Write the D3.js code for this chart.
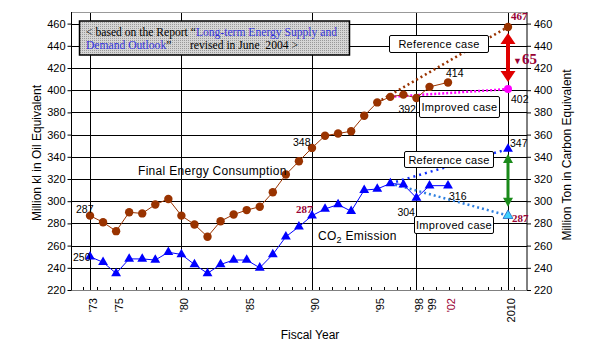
<!DOCTYPE html>
<html>
<head>
<meta charset="utf-8">
<script src="https://cdnjs.cloudflare.com/ajax/libs/d3/7.8.5/d3.min.js"></script>
<style>
  body { margin: 0; background: #fff; }
  svg { display: block; }
  text { font-family: "Liberation Sans", Arial, sans-serif; }
</style>
</head>
<body>
<div id="chart"></div>
<script>
// actual data, fiscal years ('73 - '99, then '02)
const years = [1973, 1974, 1975, 1976, 1977, 1978, 1979, 1980, 1981, 1982, 1983, 1984, 1985, 1986,
    1987, 1988, 1989, 1990, 1991, 1992, 1993, 1994, 1995, 1996, 1997, 1998, 1999, 2002];
const energy = [287, 281, 273, 290, 289, 297, 302, 287, 279, 268, 282, 288, 292, 295,
    308, 324, 336, 348, 359, 361, 363, 377, 389, 394, 396, 393, 403, 407];
const co2 = [250, 245, 235, 248, 248, 247, 254, 252, 243, 235, 243, 247, 247, 240,
    252, 268, 277, 287, 293, 297, 291, 310, 311, 316, 315, 303, 314, 314];

// outlook to 2010
const energyRefYears = [1995, 2010];
const energyRefCase = [389, 457];
const energyImpYears = [1996, 2010];
const energyImpCase = [394, 401];
const co2RefYears = [1996, 2010];
const co2RefCase = [316, 347];
const co2ImpYears = [1996, 2010];
const co2ImpCase = [316, 287];

// axes
const yTicks = [220, 240, 260, 280, 300, 320, 340, 360, 380, 400, 420, 440, 460];
const gridYears = [1973, 1980, 1990, 1998, 2010];
const tickYears = [1973, 1975, 1980, 1985, 1990, 1995, 1998, 1999, 2002, 2010];
const tickLabels = ["'73", "'75", "'80", "'85", "'90", "'95", "'98", "'99", "'02", "2010"];

const width = 600, height = 346;
const plotLeft = 71.5, plotRight = 527, plotTop = 12, plotBottom = 290;

const brown = "#993300", blue = "#0000ff", maroon = "#990033";

const svg = d3.select("#chart").append("svg")
    .attr("width", width)
    .attr("height", height);

// years are categories up to '99, the remaining ones are squeezed in
const x = d3.scaleLinear()
    .domain([1973, 1999, 2002, 2010])
    .range([90, 429.5, 448, 508]);
// underlying category grid (for the small ticks)
const xCat = d3.scaleLinear().domain([1973, 1999]).range([90, 429.5]);
const y = d3.scaleLinear().domain([220, 470]).range([plotBottom, 12.5]);

// pattern for the note box
const defs = svg.append("defs");
const pat = defs.append("pattern")
    .attr("id", "dots")
    .attr("width", 2).attr("height", 2)
    .attr("patternUnits", "userSpaceOnUse");
pat.append("rect").attr("width", 2).attr("height", 2).attr("fill", "#d6d6d6");
pat.append("rect").attr("width", 1).attr("height", 1).attr("fill", "#999");

// horizontal grid
svg.append("g")
    .selectAll("line")
    .data(yTicks.slice(1))
    .enter()
    .append("line")
    .attr("x1", plotLeft).attr("x2", plotRight)
    .attr("y1", d => Math.round(y(d)) + 0.5).attr("y2", d => Math.round(y(d)) + 0.5)
    .attr("stroke", "#000");

// vertical grid
svg.append("g")
    .selectAll("line")
    .data(gridYears)
    .enter()
    .append("line")
    .attr("x1", d => Math.round(x(d)) + 0.5).attr("x2", d => Math.round(x(d)) + 0.5)
    .attr("y1", plotTop).attr("y2", plotBottom)
    .attr("stroke", "#000");

// frame
svg.append("line").attr("x1", plotLeft).attr("x2", plotRight)
    .attr("y1", plotTop + 0.5).attr("y2", plotTop + 0.5).attr("stroke", "#999");
svg.append("line").attr("x1", plotLeft).attr("x2", plotLeft)
    .attr("y1", plotTop).attr("y2", plotBottom).attr("stroke", "#000");
svg.append("line").attr("x1", plotRight).attr("x2", plotRight)
    .attr("y1", plotTop).attr("y2", plotBottom).attr("stroke", "#000");
svg.append("line").attr("x1", plotLeft).attr("x2", plotRight)
    .attr("y1", plotBottom + 0.5).attr("y2", plotBottom + 0.5)
    .attr("stroke", "#000").attr("stroke-dasharray", "1,1");

// small year ticks
svg.append("g")
    .selectAll("line")
    .data(d3.range(1972.5, 2006, 1))
    .enter()
    .append("line")
    .attr("x1", d => Math.round(xCat(d)) + 0.5).attr("x2", d => Math.round(xCat(d)) + 0.5)
    .attr("y1", plotBottom - 3).attr("y2", plotBottom)
    .attr("stroke", "#000");

// y axes
const leftAxis = svg.append("g")
    .attr("transform", `translate(${plotLeft},0)`)
    .call(d3.axisLeft(y).tickValues(yTicks).tickSizeInner(4).tickSizeOuter(0).tickPadding(2));
const rightAxis = svg.append("g")
    .attr("transform", `translate(${plotRight},0)`)
    .call(d3.axisRight(y).tickValues(yTicks).tickSizeInner(4).tickSizeOuter(0).tickPadding(3));
[leftAxis, rightAxis].forEach(a => {
    a.select(".domain").remove();
    a.selectAll("text").style("font-size", "11px").style("font-family", "\"Liberation Sans\", Arial, sans-serif");
});

// x labels, rotated
svg.append("g")
    .selectAll("text")
    .data(tickYears)
    .enter()
    .append("text")
    .attr("transform", d => `translate(${x(d) + 3},298) rotate(-90)`)
    .attr("dy", "0.35em")
    .attr("text-anchor", "end")
    .style("font-size", "11px")
    .attr("fill", (d, i) => tickLabels[i] === "'02" ? maroon : "#000")
    .text((d, i) => tickLabels[i]);

// axis titles
svg.append("text")
    .attr("transform", `translate(41,153) rotate(-90)`)
    .attr("text-anchor", "middle")
    .style("font-size", "12px")
    .text("Million kl in Oil Equivalent");
svg.append("text")
    .attr("transform", `translate(571,155) rotate(-90)`)
    .attr("text-anchor", "middle")
    .style("font-size", "12px")
    .text("Million Ton in Carbon Equivalent");
svg.append("text")
    .attr("x", 310).attr("y", 339)
    .attr("text-anchor", "middle")
    .style("font-size", "12px")
    .text("Fiscal Year");

// outlook lines (dotted)
function outlook(yrs, vals, color, dash) {
    svg.append("path")
        .datum(yrs.map((d, i) => [d, vals[i]]))
        .attr("d", d3.line().x(d => x(d[0])).y(d => y(d[1])))
        .attr("fill", "none")
        .attr("stroke", color)
        .attr("stroke-width", 2.5)
        .attr("stroke-dasharray", dash);
}
outlook(energyRefYears, energyRefCase, brown, "2,3");
outlook(energyImpYears, energyImpCase, "#ff00ff", "2,2");
outlook(co2RefYears, co2RefCase, "#1030ff", "2,4");
outlook(co2ImpYears, co2ImpCase, "#2f80e0", "2,3");

// actual lines
const line = d3.line().x((d, i) => x(years[i])).y(d => y(d));
svg.append("path").datum(energy).attr("d", line)
    .attr("fill", "none").attr("stroke", brown).attr("stroke-width", 1);
svg.append("path").datum(co2).attr("d", line)
    .attr("fill", "none").attr("stroke", blue).attr("stroke-width", 1);

svg.append("g")
    .selectAll("circle")
    .data(energy)
    .enter()
    .append("circle")
    .attr("cx", (d, i) => x(years[i]))
    .attr("cy", d => y(d))
    .attr("r", 4.2)
    .attr("fill", brown);

const tri = d3.symbol().type(d3.symbolTriangle).size(42);
svg.append("g")
    .selectAll("path")
    .data(co2)
    .enter()
    .append("path")
    .attr("d", tri)
    .attr("transform", (d, i) => `translate(${x(years[i])},${y(d)})`)
    .attr("fill", blue);

// 2010 end markers
svg.append("circle").attr("cx", x(2010)).attr("cy", y(energyRefCase[1]))
    .attr("r", 4.2).attr("fill", brown);
svg.append("circle").attr("cx", x(2010)).attr("cy", y(energyImpCase[1]))
    .attr("r", 4).attr("fill", "#ff00ff");
svg.append("path").attr("d", tri)
    .attr("transform", `translate(${x(2010)},${y(co2RefCase[1])})`).attr("fill", blue);
svg.append("path").attr("d", tri)
    .attr("transform", `translate(${x(2010)},${y(co2ImpCase[1])})`)
    .attr("fill", "#40d0ff").attr("stroke", "#2060c0").attr("stroke-width", 0.8);

// double arrows between the two cases
function doubleArrow(yTop, yBottom, color, shaft, headW, headH) {
    const cx = x(2010);
    const g = svg.append("g").attr("fill", color);
    g.append("rect")
        .attr("x", cx - shaft / 2).attr("width", shaft)
        .attr("y", yTop + headH - 1).attr("height", yBottom - yTop - 2 * headH + 2);
    g.append("path").attr("d", `M${cx},${yTop} L${cx + headW / 2},${yTop + headH} L${cx - headW / 2},${yTop + headH}Z`);
    g.append("path").attr("d", `M${cx},${yBottom} L${cx + headW / 2},${yBottom - headH} L${cx - headW / 2},${yBottom - headH}Z`);
}
doubleArrow(y(energyRefCase[1]) + 6, y(energyImpCase[1]) - 7, "#e00000", 4, 15, 11);
doubleArrow(y(co2RefCase[1]) + 5, y(co2ImpCase[1]) - 9, "#1a8a1a", 3, 10, 9);

svg.append("text")
    .attr("x", 513).attr("y", 64)
    .attr("fill", maroon)
    .style("font-family", "\"Liberation Serif\", serif")
    .style("font-weight", "bold")
    .call(t => {
        t.append("tspan").style("font-size", "9px").text("▼");
        t.append("tspan").style("font-size", "15px").text("65");
    });

// case boxes
function caseBox(x0, y0, w, h, label) {
    svg.append("rect")
        .attr("x", x0 + 0.5).attr("y", y0 + 0.5)
        .attr("width", w).attr("height", h)
        .attr("rx", 1.5)
        .attr("fill", "#fff").attr("stroke", "#000");
    svg.append("text")
        .attr("x", x0 + w / 2 + 0.5).attr("y", y0 + h / 2 + 4.5)
        .attr("text-anchor", "middle")
        .style("font-size", "11px")
        .style("letter-spacing", "0.3px")
        .text(label);
}
caseBox(389, 35, 99, 17, "Reference case");
caseBox(419, 96, 80, 21, "Improved case");
caseBox(404, 151, 89, 16, "Reference case");
caseBox(414, 216, 79, 17, "Improved case");

// value labels
function valueLabel(yr, v, txt, dx, dy, color, bold) {
    svg.append("text")
        .attr("x", x(yr) + dx).attr("y", y(v) + dy)
        .attr("fill", color || "#000")
        .style("font-size", bold ? "11px" : "10.5px")
        .style("font-family", bold ? "\"Liberation Serif\", serif" : null)
        .style("font-weight", bold ? "bold" : null)
        .text(txt);
}
valueLabel(1973, energy[0], "287", -14, -3);
valueLabel(1973, co2[0], "250", -17, 4);
valueLabel(1990, energy[17], "348", -19, -2);
valueLabel(1990, co2[17], "287", -16, -3, maroon, true);
valueLabel(1998, energy[25], "392", -18, 15);
valueLabel(1998, co2[25], "304", -19, 18);
valueLabel(2002, energy[27], "414", -2, -5);
valueLabel(2002, co2[27], "316", 1, 14);
valueLabel(2010, energyRefCase[1], "467", 3, -7, maroon, true);
valueLabel(2010, energyImpCase[1], "402", 3, 14);
valueLabel(2010, co2RefCase[1], "347", 2, -2);
valueLabel(2010, co2ImpCase[1], "287", 4, 6, maroon, true);

// series names
svg.append("text")
    .attr("x", 138).attr("y", 175)
    .style("font-size", "12px")
    .style("letter-spacing", "0.3px")
    .text("Final Energy Consumption");
svg.append("text")
    .attr("x", 318).attr("y", 240)
    .style("font-size", "12px")
    .style("letter-spacing", "0.3px")
    .call(t => {
        t.append("tspan").text("CO");
        t.append("tspan").attr("dy", 3).style("font-size", "9px").text("2");
        t.append("tspan").attr("dy", -3).text(" Emission");
    });

// note box
svg.append("rect")
    .attr("x", 79.5).attr("y", 21)
    .attr("width", 270).attr("height", 34)
    .attr("fill", "url(#dots)")
    .attr("stroke", "#000").attr("stroke-width", 1.5);
const noteFont = "\"Liberation Serif\", \"Times New Roman\", serif";
svg.append("text")
    .attr("x", 86).attr("y", 36)
    .style("font-family", noteFont).style("font-size", "11.6px")
    .call(t => {
        t.append("tspan").text("< based on the Report \u201c");
        t.append("tspan").attr("fill", "#3333dd").text("Long-term Energy Supply and");
    });
svg.append("text")
    .attr("x", 86).attr("y", 49)
    .style("font-family", noteFont).style("font-size", "11.6px")
    .style("white-space", "pre")
    .call(t => {
        t.append("tspan").attr("fill", "#3333dd").text("Demand Outlook");
        t.append("tspan").text("\u201d");
        t.append("tspan").attr("x", 190).text("revised in June  2004 >");
    });
</script>
</body>
</html>
